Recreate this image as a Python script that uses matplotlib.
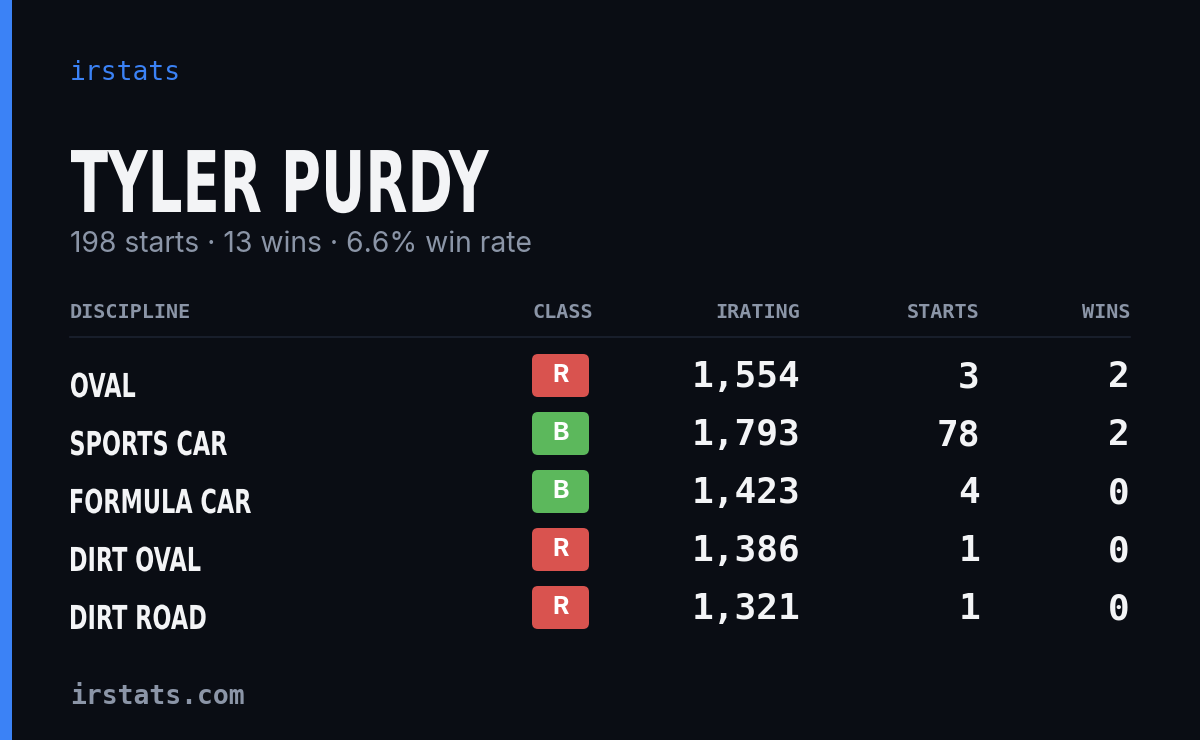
import matplotlib.pyplot as plt
from matplotlib.patches import FancyBboxPatch, Rectangle, PathPatch
from matplotlib.textpath import TextPath
from matplotlib.font_manager import FontProperties
from matplotlib.transforms import Affine2D

W, H = 1200, 740

driver = "TYLER PURDY"
summary = "198 starts · 13 wins · 6.6% win rate"
columns = ["DISCIPLINE", "CLASS", "IRATING", "STARTS", "WINS"]
disciplines = ["OVAL", "SPORTS CAR", "FORMULA CAR", "DIRT OVAL", "DIRT ROAD"]
classes = ["R", "B", "B", "R", "R"]
iratings = [1554, 1793, 1423, 1386, 1321]
starts = [3, 78, 4, 1, 1]
wins = [2, 2, 0, 0, 0]

bg = "#0a0d14"
blue = "#3b82f6"
muted = "#8b95a7"
white = "#f3f4f6"
class_colors = {"R": "#d9534f", "B": "#5cb85c"}

mono = ["DejaVu Sans Mono"]
bold_prop = FontProperties(family="DejaVu Sans", weight="bold")

fig = plt.figure(figsize=(W / 100, H / 100), dpi=100, facecolor=bg)
ax = fig.add_axes([0, 0, 1, 1])
ax.set_xlim(0, W)
ax.set_ylim(H, 0)
ax.axis("off")


def path_width(s, size):
    ext = TextPath((0, 0), s, size=size, prop=bold_prop).get_extents()
    return ext.width


def condensed_text(s, x, baseline, size, xscale):
    # squeeze bold DejaVu horizontally to mimic a condensed face
    tp = TextPath((0, 0), s, size=size, prop=bold_prop)
    x0 = tp.get_extents().x0
    tr = Affine2D().translate(-x0, 0).scale(xscale, -1).translate(x, baseline)
    ax.add_patch(PathPatch(tr.transform_path(tp), fc=white, ec="none", lw=0))


# left accent bar
ax.add_patch(Rectangle((0, 0), 12, H, color=blue, lw=0))

ax.text(70, 73, "irstats", color=blue, fontsize=19, family=mono, va="center")
title_size = 85
condensed_text(driver, 71, 212, title_size, 418 / path_width(driver, title_size))
ax.text(70, 245, summary, color=muted, fontsize=20.4, family="Inter", va="center")

# header
col_x = [70, 593, 800, 980, 1130]
col_ha = ["left", "right", "right", "right", "right"]
for name, x, ha in zip(columns, col_x, col_ha):
    ax.text(x, 313, name, color=muted, fontsize=14.5, family=mono, fontweight="bold",
            ha=ha, va="center")
ax.plot([70, 1130], [337, 337], color="#1c2230", lw=1.2)

row_size = 33
row_scale = 156 / path_width("SPORTS CAR", row_size)
row_y = [376, 434, 492, 550, 608]
for y, disc, cls, ir, st, wn in zip(row_y, disciplines, classes, iratings, starts, wins):
    condensed_text(disc, 71, y + 21, row_size, row_scale)
    ax.add_patch(FancyBboxPatch((532, y - 22), 57, 43,
                                boxstyle="round,pad=0,rounding_size=6",
                                fc=class_colors[cls], ec="none"))
    ax.text(560.5, y - 1, cls, color="white", fontsize=18, family="Inter",
            fontweight="bold", ha="center", va="center")
    for val, x in ((f"{ir:,}", 800), (str(st), 980), (str(wn), 1130)):
        ax.text(x, y + 1, val, color=white, fontsize=26, family=mono, fontweight="bold",
                ha="right", va="center")

ax.text(70, 697, "irstats.com", color=muted, fontsize=19, family=mono, fontweight="bold",
        va="center")

fig.savefig("out.png", dpi=100, facecolor=bg)
